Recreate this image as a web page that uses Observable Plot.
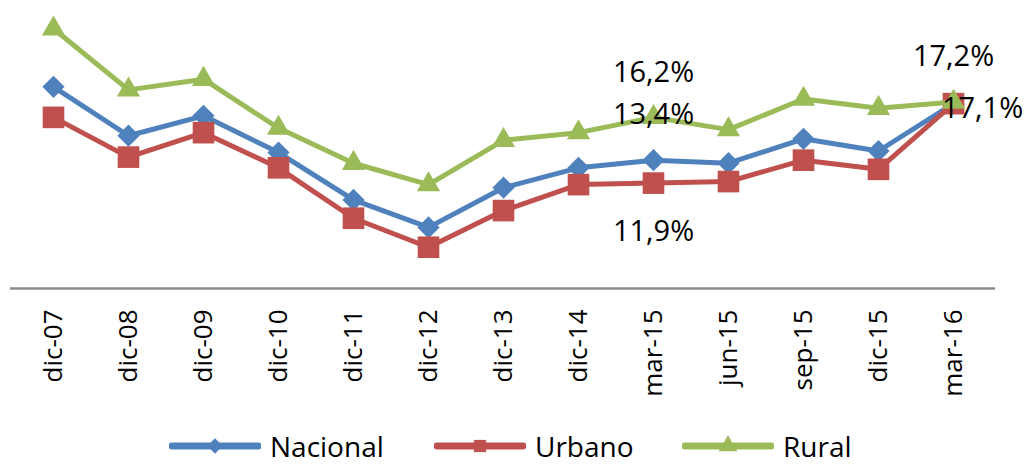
<!DOCTYPE html>
<html>
<head>
<meta charset="utf-8">
<script src="https://cdn.jsdelivr.net/npm/d3@7"></script>
<script src="https://cdn.jsdelivr.net/npm/@observablehq/plot@0.6"></script>
<style>
  html, body { margin: 0; padding: 0; background: #fff; overflow: hidden; }
  body { position: relative; width: 1033px; height: 466px; font-family: "Open Sans", sans-serif; }
  #legend { position: absolute; left: 0; top: 427px; width: 1033px; height: 38px; font-size: 28px; line-height: 38px; color: #000; }
  #legend .item { position: absolute; top: 0; display: flex; align-items: center; height: 38px; }
  #legend svg { display: block; margin-right: 9px; }
</style>
</head>
<body>
<div id="chart"></div>
<div id="legend"></div>
<script>
const categories = ["dic-07","dic-08","dic-09","dic-10","dic-11","dic-12","dic-13","dic-14","mar-15","jun-15","sep-15","dic-15","mar-16"];
const nacional = [18.2, 15.0, 16.3, 13.9, 10.8, 9.0, 11.6, 12.9, 13.4, 13.2, 14.8, 14.0, 17.1];
const urbano   = [16.2, 13.6, 15.2, 12.9, 9.6, 7.7, 10.1, 11.8, 11.9, 12.0, 13.4, 12.8, 17.1];
const rural    = [22.0, 18.0, 18.7, 15.5, 13.2, 11.8, 14.7, 15.2, 16.2, 15.4, 17.4, 16.8, 17.2];
const seriesNames = ["Nacional", "Urbano", "Rural"];
const annotations = [
  {cat: "mar-15", value: 16.2, label: "16,2%", pos: "above"},
  {cat: "mar-15", value: 13.4, label: "13,4%", pos: "above"},
  {cat: "mar-15", value: 11.9, label: "11,9%", pos: "below"},
  {cat: "mar-16", value: 17.2, label: "17,2%", pos: "above"},
  {cat: "mar-16", value: 17.1, label: "17,1%", pos: "right"}
];

const colors = {Nacional: "#4F81BD", Urbano: "#C0504D", Rural: "#9BBB59"};
const symbols = {Nacional: "diamond2", Urbano: "square", Rural: "triangle"};
const radii = {Nacional: 10, Urbano: 12.2, Rural: 8.6};
const valuesBy = {Nacional: nacional, Urbano: urbano, Rural: rural};

const seriesMarks = seriesNames.flatMap(name => {
  const data = categories.map((c, i) => ({cat: c, value: valuesBy[name][i]}));
  return [
    Plot.line(data, {x: "cat", y: "value", stroke: colors[name], strokeWidth: 5, strokeLinejoin: "round"}),
    Plot.dot(data, {x: "cat", y: "value", fill: colors[name], stroke: "none", symbol: symbols[name], r: radii[name]})
  ];
});

const dyBy = {above: -45, below: 49, right: 5};
const dxBy = {above: 0, below: 0, right: 29};
const annMarks = Object.keys(dyBy).map(p =>
  Plot.text(annotations.filter(a => a.pos === p), {
    x: "cat", y: "value", text: "label", dy: dyBy[p], dx: dxBy[p],
    fontSize: 29, fill: "#000"
  })
);

const chart = Plot.plot({
  width: 1033,
  height: 420,
  marginLeft: 10,
  marginRight: 38,
  marginTop: 13,
  marginBottom: 132,
  style: {fontFamily: "Open Sans, sans-serif", background: "#fff"},
  x: {type: "point", domain: categories, padding: 0.5, axis: null},
  y: {domain: [5, 23], axis: null},
  marks: [
    Plot.ruleY([5], {stroke: "#8c8c8c", strokeWidth: 2.5}),
    Plot.axisX({tickRotate: -90, tickSize: 0, tickPadding: 21, fontSize: 26, fill: "#000", label: null}),
    ...seriesMarks,
    ...annMarks
  ]
});
document.getElementById("chart").appendChild(chart);

// legend
const legend = document.getElementById("legend");
const itemLeft = [169, 434, 682];
const symMap = {Nacional: d3.symbolDiamond2, Urbano: d3.symbolSquare, Rural: d3.symbolTriangle};
seriesNames.forEach((name, i) => {
  const item = document.createElement("div");
  item.className = "item";
  item.style.left = itemLeft[i] + "px";
  const sw = d3.create("svg").attr("width", 92).attr("height", 24);
  sw.append("line").attr("x1", 3).attr("x2", 89).attr("y1", 12).attr("y2", 12)
    .attr("stroke", colors[name]).attr("stroke-width", 7).attr("stroke-linecap", "round");
  sw.append("path").attr("transform", "translate(46,12)")
    .attr("d", d3.symbol(symMap[name], 150)())
    .attr("fill", colors[name]);
  item.appendChild(sw.node());
  const t = document.createElement("span");
  t.textContent = name;
  item.appendChild(t);
  legend.appendChild(item);
});
</script>
</body>
</html>
